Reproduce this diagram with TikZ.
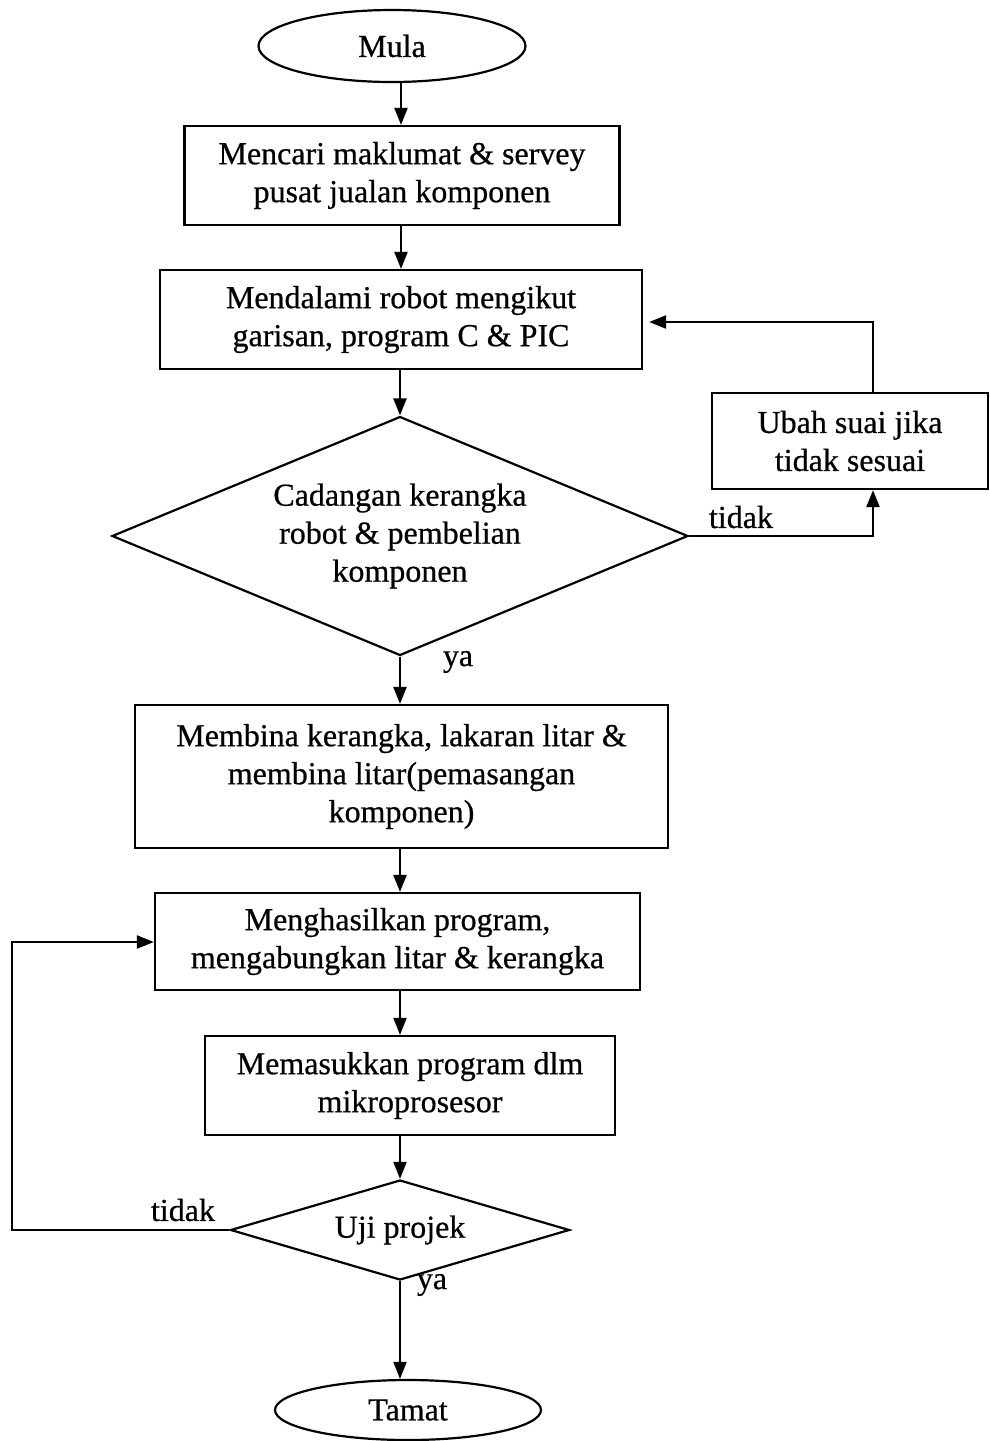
\documentclass[tikz,border=0pt]{standalone}
\usepackage{fontspec}
\setmainfont{Liberation Serif}[FakeBold=0.6]
\usetikzlibrary{shapes.geometric,arrows.meta}
\begin{document}
\begin{tikzpicture}[x=1pt,y=-1pt,
  every node/.style={font=\fontsize{32}{38}\selectfont, align=center, inner sep=0pt},
  box/.style={draw, line width=2.2pt, rectangle},
  term/.style={draw, line width=2.2pt, ellipse},
  deci/.style={draw, line width=2.2pt, diamond},
  lbl/.style={font=\fontsize{32}{38}\selectfont},
  flow/.style={line width=2.2pt, -{Triangle[length=17pt,width=13pt]}}]
\useasboundingbox (0,0) rectangle (989,1441);
\fill[white] (0,0) rectangle (989,1441);
\node[term, minimum width=267pt, minimum height=72pt] (start) at (392,46) {Mula};
\node[box, minimum width=435pt, minimum height=99pt] (b1) at (402,175.5) {Mencari maklumat \& servey\\pusat jualan komponen};
\node[box, minimum width=482pt, minimum height=99pt] (b2) at (401,319.5) {Mendalami robot mengikut\\garisan, program C \& PIC};
\node[deci, aspect=2.41, minimum width=576pt, minimum height=239pt] (d1) at (400,536) {Cadangan kerangka\\robot \& pembelian\\komponen};
\node[box, minimum width=276pt, minimum height=96pt] (side) at (850,441) {Ubah suai jika\\tidak sesuai};
\node[box, minimum width=533pt, minimum height=143pt] (b3) at (401.5,776.5) {Membina kerangka, lakaran litar \&\\membina litar(pemasangan\\komponen)};
\node[box, minimum width=485pt, minimum height=97pt] (b4) at (397.5,941.5) {Menghasilkan program,\\mengabungkan litar \& kerangka};
\node[box, minimum width=410pt, minimum height=99pt] (b5) at (410,1085.5) {Memasukkan program dlm\\mikroprosesor};
\node[deci, aspect=3.39, minimum width=339pt, minimum height=100pt] (d2) at (400,1230) {Uji projek};
\node[term, minimum width=266pt, minimum height=60pt] (stop) at (408,1410) {Tamat};

\coordinate (c1) at (873,536);
\coordinate (c2) at (873,322);
\coordinate (c3) at (12,1230);
\coordinate (c4) at (12,942);

\draw[flow] (401,82) -- (b1.north -| 401,0);
\draw[flow] (b1.south -| 401,0) -- (b2.north -| 401,0);
\draw[flow] (b2.south -| 400,0) -- (d1.north);
\draw[flow] (d1.south) -- (b3.north -| 400,0);
\draw[flow] (b3.south -| 400,0) -- (b4.north -| 400,0);
\draw[flow] (b4.south -| 400,0) -- (b5.north -| 400,0);
\draw[flow] (b5.south -| 400,0) -- (d2.north);
\draw[flow] (d2.south) -- (stop.north -| 400,0);
\draw[flow] (d1.east) -- (c1) -- (side.south -| c1);
\draw[flow, shorten >=6pt] (side.north -| c2) -- (c2) -- (b2.east |- c2);
\draw[flow] (d2.west) -- (c3) -- (c4) -- (b4.west |- c4);

\node[lbl] (t1) at (741,517) {tidak};
\node[lbl] (y1) at (458,662) {ya};
\node[lbl] (t2) at (183,1210) {tidak};
\node[lbl] (y2) at (432,1285) {ya};
\end{tikzpicture}
\end{document}
